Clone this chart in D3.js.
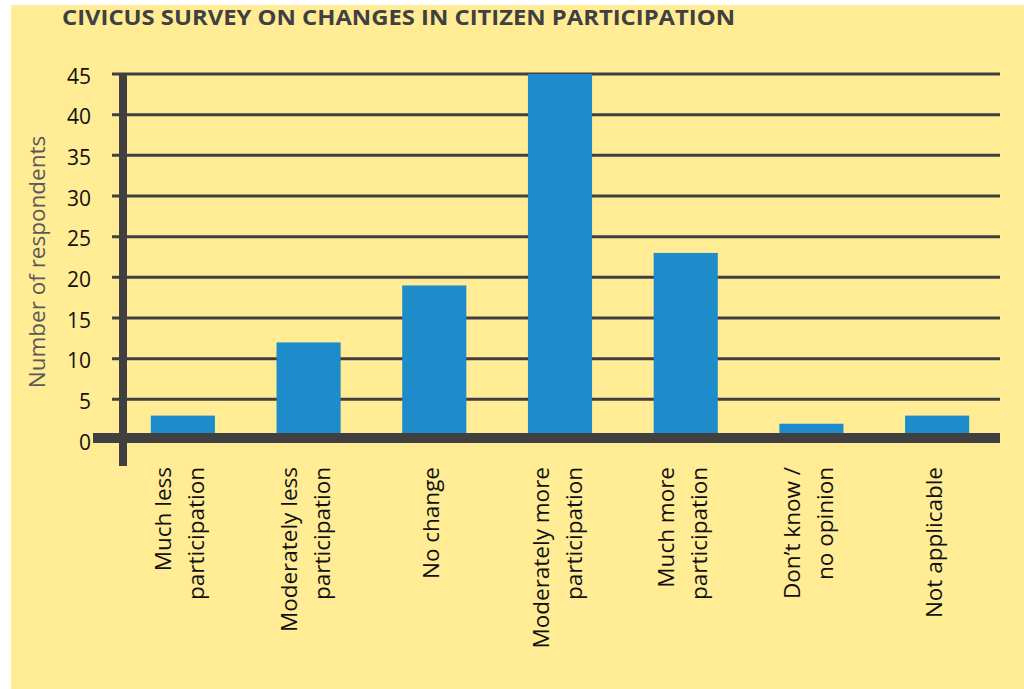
<!DOCTYPE html>
<html>
<head>
<meta charset="utf-8">
<script src="https://cdn.jsdelivr.net/npm/d3@7"></script>
<style>
  html, body { margin: 0; padding: 0; background: #ffffff; }
  svg { display: block; }
</style>
</head>
<body>
<script>
// ---- Data ----
const categories = [
  "Much less participation",
  "Moderately less participation",
  "No change",
  "Moderately more participation",
  "Much more participation",
  "Don't know / no opinion",
  "Not applicable"
];
const categoryLines = [
  ["Much less", "participation"],
  ["Moderately less", "participation"],
  ["No change"],
  ["Moderately more", "participation"],
  ["Much more", "participation"],
  ["Don\u2019t know /", "no opinion"],
  ["Not applicable"]
];
const respondents = [3, 12, 19, 45, 23, 2, 3];
const yTicks = [0, 5, 10, 15, 20, 25, 30, 35, 40, 45];
const titleText = "CIVICUS SURVEY ON CHANGES IN CITIZEN PARTICIPATION";
const yAxisTitle = "Number of respondents";

// ---- Layout ----
const W = 1024, H = 689;
const svg = d3.select("body").append("svg").attr("width", W).attr("height", H);

svg.append("rect").attr("x", 11).attr("y", 5).attr("width", W - 11).attr("height", H - 5)
  .attr("fill", "#FFEC95");

const x = d3.scaleBand().domain(categories).range([120, 1000])
  .paddingInner(0.49).paddingOuter(0.245);
const y = d3.scaleLinear().domain([0, 45]).range([440, 74]);

const dark = "#404040";
const font = "'Open Sans', 'Noto Sans', sans-serif";

// Title
svg.append("text").attr("x", 62).attr("y", 25)
  .attr("font-family", font).attr("font-weight", 700).attr("font-size", 21)
  .attr("fill", dark).attr("textLength", 673).attr("lengthAdjust", "spacingAndGlyphs")
  .text(titleText);

// Gridlines (with tick stubs to the left of the axis)
svg.append("g").selectAll("line").data(yTicks.filter(d => d > 0)).join("line")
  .attr("x1", 112).attr("x2", 1000)
  .attr("y1", d => y(d)).attr("y2", d => y(d))
  .attr("stroke", dark).attr("stroke-width", 3);

// Bars
svg.append("g").selectAll("rect").data(respondents).join("rect")
  .attr("x", (d, i) => x(categories[i]))
  .attr("width", x.bandwidth())
  .attr("y", d => y(d))
  .attr("height", d => y(0) - y(d))
  .attr("fill", "#1E8BCA");

// Baseline (thick)
svg.append("line").attr("x1", 93).attr("x2", 1000)
  .attr("y1", y(0) - 2).attr("y2", y(0) - 2)
  .attr("stroke", dark).attr("stroke-width", 10);

// Vertical axis (thick)
svg.append("line").attr("x1", 123).attr("x2", 123)
  .attr("y1", y(45) - 1).attr("y2", 466)
  .attr("stroke", dark).attr("stroke-width", 8);

// Y tick labels
svg.append("g").selectAll("text").data(yTicks).join("text")
  .attr("x", 91).attr("y", d => y(d) + 4)
  .attr("text-anchor", "end").attr("dominant-baseline", "middle")
  .attr("font-family", font).attr("font-size", 21).attr("fill", "#111")
  .text(d => d);

// Y axis title
svg.append("text")
  .attr("transform", "translate(45,262) rotate(-90)")
  .attr("text-anchor", "middle")
  .attr("font-family", font).attr("font-size", 22.5).attr("fill", "#595959")
  .text(yAxisTitle);

// Category labels (rotated)
const lineGap = 33;
const catG = svg.append("g");
categories.forEach((c, i) => {
  const lines = categoryLines[i];
  const cx = x(c) + x.bandwidth() / 2 - 3;
  const n = lines.length;
  lines.forEach((ln, j) => {
    const off = (j - (n - 1) / 2) * lineGap;
    const bx = cx + off + 8; // baseline x (text rotated -90, glyphs extend left)
    catG.append("text")
      .attr("transform", `translate(${bx},467) rotate(-90)`)
      .attr("text-anchor", "end")
      .attr("font-family", font).attr("font-size", 22.5).attr("fill", "#111")
      .text(ln);
  });
});
</script>
</body>
</html>
